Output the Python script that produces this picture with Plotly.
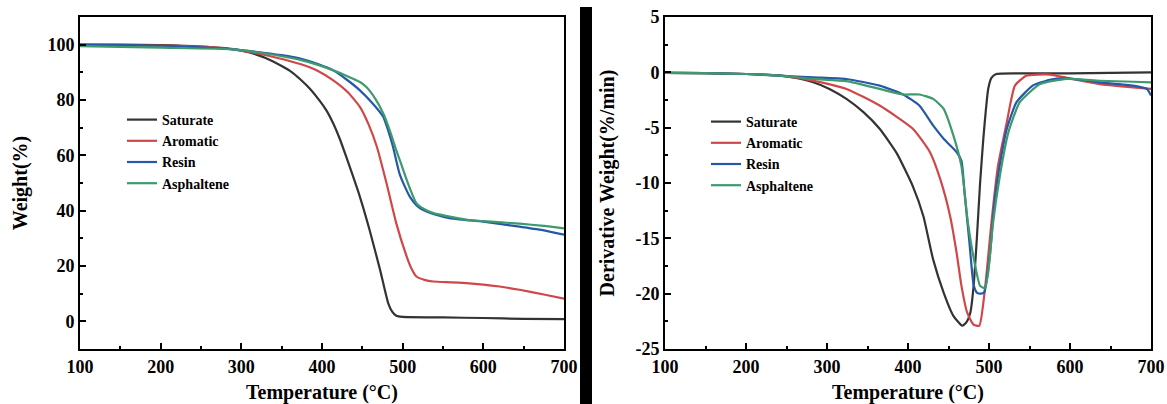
import plotly.graph_objects as go

# ---------------- data ----------------
series_names = ["Saturate", "Aromatic", "Resin", "Asphaltene"]
series_colors = ["#333333", "#d0474a", "#2558a8", "#3c9a6c"]

# TGA (weight %)
sat_T = [100, 150, 200, 250, 290, 310, 330, 350, 362, 373, 385, 397, 406, 414, 422, 430, 447, 459, 472, 482, 487, 492, 500, 550, 600, 650, 700]
sat_W = [100, 100, 99.8, 99.3, 98.4, 97.2, 95.2, 92.3, 90.2, 87.5, 84.1, 79.8, 76, 71.5, 66, 59.5, 45, 33, 18.6, 6.6, 3.5, 2.0, 1.6, 1.4, 1.2, 0.9, 0.8]

aro_T = [100, 200, 250, 290, 320, 345, 373, 395, 414, 432, 447, 458, 468, 480, 492, 505, 511, 517, 527, 538, 560, 579, 600, 620, 645, 675, 700]
aro_W = [99.8, 99.7, 99.3, 98.3, 96.8, 95.2, 93, 90.5, 87.1, 82.8, 77.5, 71, 63.1, 49.9, 35.5, 23.4, 19, 16.2, 15, 14.4, 14.1, 13.8, 13.3, 12.6, 11.4, 9.7, 8.2]

res_T = [100, 200, 290, 330, 350, 373, 395, 414, 430, 447, 462, 476, 482, 488, 496, 503, 509, 517, 525, 540, 558, 600, 645, 675, 700]
res_W = [100, 99.6, 98.3, 97, 96.2, 95, 93, 90.7, 87.5, 83.5, 79, 73.9, 69, 63.1, 53.5, 48.5, 45, 42, 40.3, 38.6, 37.3, 36, 34.2, 32.9, 31.3]

asp_T = [100, 200, 290, 330, 350, 373, 395, 414, 430, 447, 455, 466, 476, 484, 492, 498, 505, 511, 517, 527, 538, 555, 579, 600, 645, 675, 700]
asp_W = [99.5, 98.9, 98.3, 96.8, 95.8, 94.5, 92.7, 90.7, 88.8, 86.5, 84.7, 80.5, 75.1, 69, 61.9, 57, 51.1, 46.5, 42.7, 40.5, 39.1, 38, 36.7, 36.2, 35.3, 34.5, 33.6]

# DTG (derivative weight %/min)
sat_dT = [100, 150, 200, 242, 265, 283, 303, 324, 345, 365, 386, 406, 419, 431, 444, 456, 467, 472, 477, 481, 485, 489, 493, 496, 499, 503, 509, 550, 600, 650, 700]
sat_D = [-0.05, -0.08, -0.15, -0.3, -0.55, -0.9, -1.5, -2.4, -3.6, -5.1, -7.3, -10.3, -13, -16.9, -19.9, -22, -22.9, -22.6, -21.7, -19.3, -15, -10, -6, -3.5, -1.5, -0.5, -0.15, -0.1, -0.1, -0.05, 0.0]

aro_dT = [100, 150, 200, 242, 283, 324, 365, 406, 427, 440, 452, 460, 466, 473, 481, 488, 495, 503, 511, 522, 532, 546, 575, 600, 637, 678, 700]
aro_D = [-0.05, -0.08, -0.15, -0.3, -0.75, -1.5, -3.0, -5.1, -7.2, -9.7, -13, -16.3, -19.3, -21.7, -22.8, -22.9, -19.6, -13.6, -8.5, -4.5, -1.2, -0.3, -0.2, -0.55, -1.06, -1.36, -1.5]

res_dT = [100, 150, 200, 242, 283, 324, 365, 394, 414, 431, 444, 460, 466, 470, 476, 481, 485, 490, 494, 501, 507, 514, 522, 534, 554, 575, 596, 637, 678, 695, 700]
res_D = [-0.05, -0.08, -0.15, -0.3, -0.45, -0.6, -1.2, -2.0, -3.0, -4.8, -6.0, -7.2, -8.0, -11, -15.5, -19.2, -19.9, -20, -19.9, -16.6, -11.5, -8.1, -5.1, -2.7, -1.2, -0.67, -0.55, -0.9, -1.2, -1.5, -2.1]

asp_dT = [100, 150, 200, 242, 283, 324, 365, 394, 414, 431, 444, 456, 466, 474, 483, 489, 495, 499, 505, 514, 524, 538, 563, 596, 637, 678, 700]
asp_D = [-0.05, -0.08, -0.15, -0.3, -0.6, -0.8, -1.5, -2.0, -2.0, -2.4, -3.3, -5.7, -8.5, -13.6, -17.5, -19.3, -19.5, -18.1, -13.6, -9.1, -5.4, -2.7, -1.06, -0.6, -0.76, -0.85, -0.9]

x_tick_vals = [100, 200, 300, 400, 500, 600, 700]
x_tick_labels = ["100", "200", "300", "400", "500", "600", "700"]
tga_tick_vals = [0, 20, 40, 60, 80, 100]
tga_tick_labels = ["0", "20", "40", "60", "80", "100"]
dtg_tick_vals = [5, 0, -5, -10, -15, -20, -25]
dtg_tick_labels = ["5", "0", "-5", "-10", "-15", "-20", "-25"]

x_title = "Temperature (°C)"
tga_title = "Weight(%)"
dtg_title = "Derivative Weight(%/min)"

# ---------------- figure ----------------
W, H = 1167, 404
FONT = "Liberation Serif"

def px(xp):
    return xp / W

fig = go.Figure()

tga = [(sat_T, sat_W), (aro_T, aro_W), (res_T, res_W), (asp_T, asp_W)]
dtg = [(sat_dT, sat_D), (aro_dT, aro_D), (res_dT, res_D), (asp_dT, asp_D)]

for name, color, (x, y) in zip(series_names, series_colors, tga):
    fig.add_trace(go.Scatter(x=x, y=y, mode="lines", name=name,
                             line=dict(color=color, width=2.2, shape="spline", smoothing=0.5),
                             xaxis="x", yaxis="y", legend="legend"))
for name, color, (x, y) in zip(series_names, series_colors, dtg):
    fig.add_trace(go.Scatter(x=x, y=y, mode="lines", name=name,
                             line=dict(color=color, width=2.2, shape="spline", smoothing=0.5),
                             xaxis="x2", yaxis="y2", legend="legend2"))

tick_font = dict(family=FONT, size=18, color="black", weight="bold")
title_font = dict(family=FONT, size=20, color="black", weight="bold")
legend_font = dict(family=FONT, size=14, color="black", weight="bold")

common_x = dict(range=[100, 700], tickvals=x_tick_vals, ticktext=x_tick_labels,
                ticks="inside", ticklen=6, tickwidth=2, tickcolor="black",
                showline=True, linecolor="black", linewidth=2, mirror=True,
                showgrid=False, zeroline=False, tickfont=tick_font,
                minor=dict(dtick=50, tick0=100, ticks="inside", ticklen=3, tickwidth=2, tickcolor="black", showgrid=False),
                automargin=False)
common_y = dict(ticks="inside", ticklen=6, tickwidth=2, tickcolor="black",
                showline=True, linecolor="black", linewidth=2, mirror=True,
                showgrid=False, zeroline=False, tickfont=tick_font, automargin=False)

top_px, bot_px = 17, 349           # plot area in page pixels
t_m = top_px
b_m = H - bot_px
plot_h = H - t_m - b_m

def py(yp):
    return (bot_px - yp) / plot_h

fig.update_layout(
    width=W, height=H,
    margin=dict(l=0, r=0, t=t_m, b=b_m),
    paper_bgcolor="white", plot_bgcolor="white",
    showlegend=True,
    xaxis=dict(domain=[px(80), px(564)], anchor="y",
               title=dict(text=x_title, font=title_font, standoff=19), **common_x),
    yaxis=dict(domain=[0, 1], anchor="x", range=[-10, 110],
               tickvals=tga_tick_vals, ticktext=tga_tick_labels,
               minor=dict(dtick=20, tick0=10, ticks="inside", ticklen=3, tickwidth=2, tickcolor="black", showgrid=False),
               title=dict(text=tga_title, font=title_font, standoff=14), **common_y),
    xaxis2=dict(domain=[px(665), px(1151)], anchor="y2",
                title=dict(text=x_title, font=title_font, standoff=19), **common_x),
    yaxis2=dict(domain=[0, 1], anchor="x2", range=[-25, 5],
                tickvals=dtg_tick_vals, ticktext=dtg_tick_labels,
                minor=dict(dtick=5, tick0=2.5, ticks="inside", ticklen=3, tickwidth=2, tickcolor="black", showgrid=False),
                title=dict(text=dtg_title, font=title_font, standoff=15), **common_y),
    legend=dict(x=px(122), y=py(104), xanchor="left", yanchor="top",
                bgcolor="rgba(0,0,0,0)", font=legend_font, itemwidth=30, tracegroupgap=0),
    legend2=dict(x=px(706), y=py(106), xanchor="left", yanchor="top",
                 bgcolor="rgba(0,0,0,0)", font=legend_font, itemwidth=30, tracegroupgap=0),
    shapes=[dict(type="rect", xref="paper", yref="paper",
                 x0=px(580), x1=px(592), y0=py(410), y1=py(7),
                 fillcolor="black", line=dict(width=0), layer="above")],
)

# remove the default 8px page margin so the figure sits at the window's corner
fig.write_html("out.html", config={"displayModeBar": False},
               post_script="document.body.style.margin='0';")
